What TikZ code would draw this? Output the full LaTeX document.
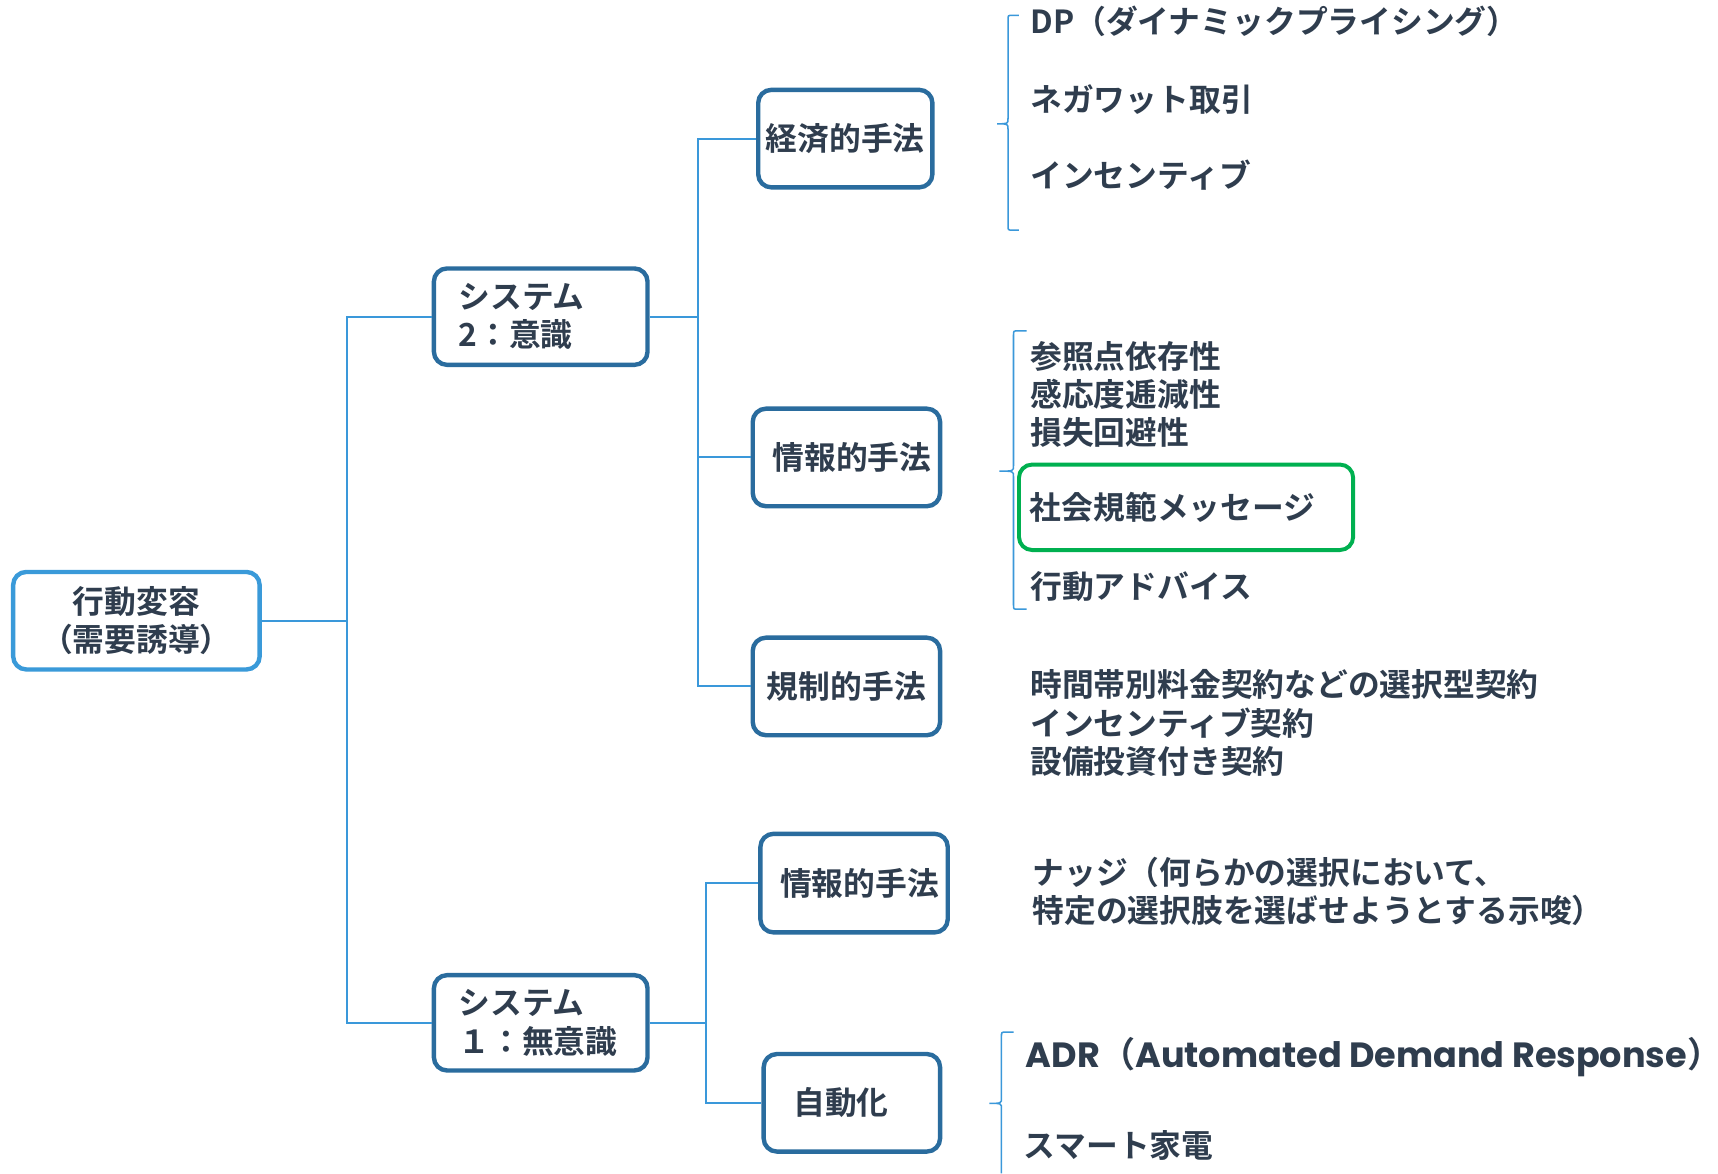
\documentclass[tikz,border=0pt]{standalone}
\usepackage{fontspec}
\setmainfont{Noto Sans CJK JP}[BoldFont=* Bold]
\newfontfamily\popfont{Poppins}
\definecolor{txt}{HTML}{2F3D4E}
\definecolor{boxblue}{HTML}{2A6C9E}
\definecolor{rootblue}{HTML}{3A9AD9}
\definecolor{lineblue}{HTML}{3A98DA}
\definecolor{grn}{HTML}{00B050}
\newcommand\fs{\fontsize{14.5}{17.5}\selectfont\bfseries}
\tikzset{
  conn/.style={draw=lineblue, line width=0.9pt},
  brc/.style={draw=lineblue, line width=0.7pt},
  bx/.style={draw=boxblue, line width=2pt, rounded corners=6pt, fill=white, font=\fs, text=txt, align=center, inner sep=0pt},
  rootbx/.style={bx, draw=rootblue},
  lbl/.style={font=\fs, text=txt, anchor=west, inner sep=0pt, align=left},
  grnbx/.style={draw=grn, line width=1.8pt, rounded corners=6pt, font=\fs, text=txt, align=left, inner sep=0pt}
}
\begin{document}
\begin{tikzpicture}[x=0.5pt,y=-0.5pt]
\useasboundingbox[fill=white] (0,0) rectangle (1568,1071);

% boxes
\node[rootbx, minimum width=112.5pt, minimum height=44.5pt] (root) at (124.5,566.5) {行動変容\\（需要誘導）};
\node[bx, minimum width=97.5pt, minimum height=44pt, text width=75pt, align=left] (sys2) at (493.5,289) {システム\\2：意識};
\node[bx, minimum width=97.5pt, minimum height=43.5pt, text width=75pt, align=left] (sys1) at (493.5,933.5) {システム\\１：無意識};
\node[bx, minimum width=79.5pt, minimum height=44.5pt] (econ) at (771.5,126.5) {経済的手法};
\node[bx, minimum width=85.5pt, minimum height=44.5pt] (info1) at (772.5,417.5) {\hspace*{5pt}情報的手法};
\node[bx, minimum width=85.5pt, minimum height=44.5pt] (reg) at (772.5,626.5) {規制的手法};
\node[bx, minimum width=85.5pt, minimum height=45pt] (info2) at (779.5,806) {\hspace*{5pt}情報的手法};
\node[bx, minimum width=80.5pt, minimum height=44.5pt] (auto) at (777.5,1006.5) {自動化\hspace*{10pt}};

% connectors
\coordinate (j1) at (317,566.5);
\coordinate (j2) at (637,289);
\coordinate (j3) at (644,933.5);
\draw[conn] (root.east) -- (j1);
\draw[conn] (j1) |- (sys2.west);
\draw[conn] (j1) |- (sys1.west);
\draw[conn] (sys2.east) -- (j2);
\draw[conn] (j2) |- (econ.west);
\draw[conn] (j2) |- (info1.west);
\draw[conn] (j2) |- (reg.west);
\draw[conn] (sys1.east) -- (j3);
\draw[conn] (j3) |- (info2.west);
\draw[conn] (j3) |- (auto.west);

% braces
\draw[brc] (930,14) -- (924,14) .. controls (920,14) .. (920,18) -- (920,108) .. controls (920,113) .. (910,113) .. controls (920,113) .. (920,118) -- (920,206) .. controls (920,210) .. (924,210) -- (930,210);
\draw[brc] (937,302) -- (929,302) .. controls (925,302) .. (925,306) -- (925,425) .. controls (925,430) .. (912,430) .. controls (925,430) .. (925,435) -- (925,552) .. controls (925,556) .. (929,556) -- (937,556);
\draw[brc] (925,942) -- (918,942) .. controls (914,942) .. (914,946) -- (914,1002) .. controls (914,1007) .. (903,1007) .. controls (914,1007) .. (914,1012) -- (914,1071);

% economic
\node[lbl] (dp) at (940,19) {DP（ダイナミックプライシング）};
\node[lbl] (nega) at (940,91) {ネガワット取引};
\node[lbl] (inc) at (940,160) {インセンティブ};

% informational
\node[lbl] (bias) at (940,360) {参照点依存性\\感応度逓減性\\損失回避性};
\node[grnbx, minimum width=152.5pt, minimum height=39pt, text width=142.5pt] (norm) at (1082.5,463) {社会規範メッセージ};
\node[lbl] (adv) at (940,535) {行動アドバイス};

% regulatory
\node[lbl] (contract) at (940,660) {時間帯別料金契約などの選択型契約\\インセンティブ契約\\設備投資付き契約};

% nudge
\node[lbl] (nudge) at (942,813.5) {ナッジ（何らかの選択において、\\特定の選択肢を選ばせようとする示唆）};

% automation
\node[lbl, font=\fontsize{16}{20}\selectfont] (adr) at (936,965) {{\popfont\bfseries ADR}\bfseries （{\popfont\bfseries Automated Demand Response}\makebox[0.45em][l]{）}};
\node[lbl] (smart) at (934,1045) {スマート家電};
\end{tikzpicture}
\end{document}
